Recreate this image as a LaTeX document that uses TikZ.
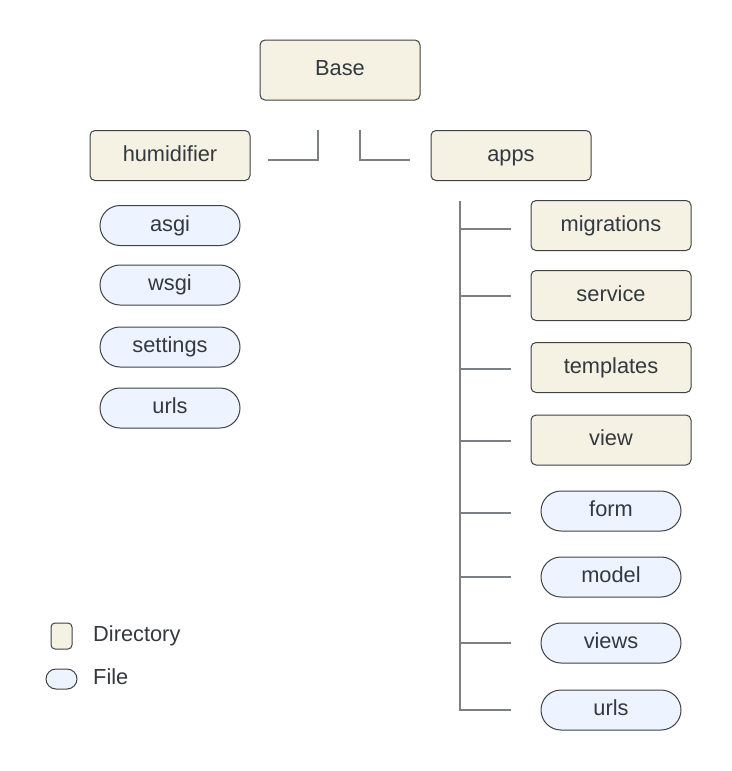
\documentclass[tikz,border=0pt]{standalone}
\usepackage{fontspec}
\setmainfont{Liberation Sans}
\begin{document}
\begin{tikzpicture}[x=1pt,y=-1pt,
  txtbase/.style={text=txt,font=\fontsize{21.8}{26}\selectfont,text height=15.7pt,text depth=4.4pt},
  dirbox/.style={txtbase,draw=boxline,fill=dirfill,line width=1pt,rounded corners=5pt,minimum width=160pt,minimum height=50pt,inner sep=0pt},
  filebox/.style={txtbase,draw=boxline,fill=filefill,line width=1pt,rounded corners=20pt,minimum width=140pt,minimum height=40pt,inner sep=0pt},
  conn/.style={draw=connline,line width=1.2pt},
  legtext/.style={txtbase,anchor=west,inner sep=0pt}]
\definecolor{boxline}{HTML}{3F4247}
\definecolor{dirfill}{HTML}{F5F2E3}
\definecolor{filefill}{HTML}{EDF4FF}
\definecolor{connline}{HTML}{7C7F84}
\definecolor{txt}{HTML}{333940}
\useasboundingbox[fill=white] (0,0) rectangle (731,771);
% top
\node[dirbox,minimum height=60pt] (base) at (340,70) {Base};
\node[dirbox] (hum) at (170,155.5) {humidifier};
\node[dirbox] (apps) at (511,155.5) {apps};
% connectors top
\coordinate (l1) at (268,160); \coordinate (l2) at (318,160); \coordinate (l3) at (318,130);
\coordinate (r1) at (360,130); \coordinate (r2) at (360,160); \coordinate (r3) at (410,160);
\draw[conn] (l1) -- (l2) -- (l3);
\draw[conn] (r1) -- (r2) -- (r3);
% left files
\node[filebox] (asgi) at (170,225.5) {asgi};
\node[filebox] (wsgi) at (170,285) {wsgi};
\node[filebox] (settings) at (170,347) {settings};
\node[filebox] (urlsA) at (170,408) {urls};
% right side
\node[dirbox] (mig) at (611,225.5) {migrations};
\node[dirbox] (serv) at (611,295.5) {service};
\node[dirbox] (tmpl) at (611,367.5) {templates};
\node[dirbox] (view) at (611,440) {view};
\node[filebox] (form) at (611,511) {form};
\node[filebox] (model) at (611,577) {model};
\node[filebox] (views) at (611,643) {views};
\node[filebox] (urlsB) at (611,710) {urls};
\coordinate (vt) at (460,201);
\coordinate (vb) at (460,711);
\draw[conn] (vt) -- (vb);
\foreach \n/\y in {mig/229,serv/296,tmpl/369,view/441,form/513,model/577,views/643,urlsB/710}{
  \coordinate (b\n) at (460,\y);
  \coordinate (e\n) at (511,\y);
  \draw[conn] (b\n) -- (e\n);
}
% legend
\node[draw=boxline,fill=dirfill,line width=1pt,rounded corners=4pt,minimum width=21pt,minimum height=26pt,inner sep=0pt] (legdir) at (61.5,636) {};
\node[legtext] (legdirt) at (93,636) {Directory};
\node[draw=boxline,fill=filefill,line width=1pt,rounded corners=10pt,minimum width=31pt,minimum height=20pt,inner sep=0pt] (legfile) at (61.5,679) {};
\node[legtext] (legfilet) at (93,679) {File};
\end{tikzpicture}
\end{document}
